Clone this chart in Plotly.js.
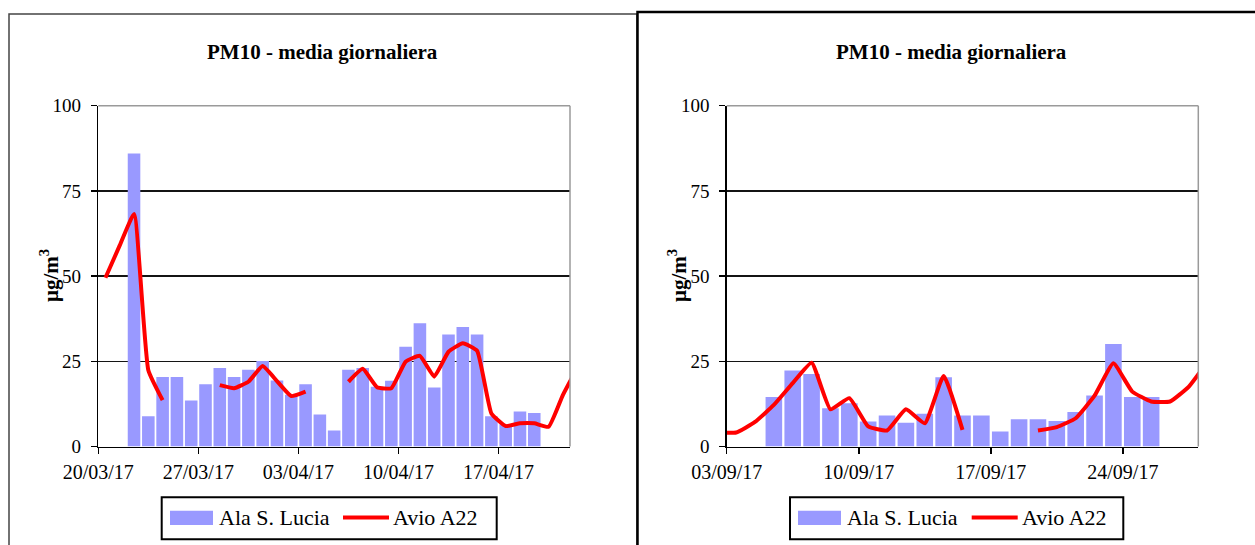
<!DOCTYPE html>
<html>
<head>
<meta charset="utf-8">
<script src="https://cdn.plot.ly/plotly-3.0.1.min.js"></script>
<style>
  html, body { margin: 0; padding: 0; background: #fff; }
  #chart { width: 1255px; height: 545px; }
</style>
</head>
<body>
<div id="chart"></div>
<script>
// PM10 daily means, spring period (20/03/17 - 21/04/17)
const springDates = [
  '2017-03-20','2017-03-21','2017-03-22','2017-03-23','2017-03-24','2017-03-25','2017-03-26',
  '2017-03-27','2017-03-28','2017-03-29','2017-03-30','2017-03-31','2017-04-01','2017-04-02',
  '2017-04-03','2017-04-04','2017-04-05','2017-04-06','2017-04-07','2017-04-08','2017-04-09',
  '2017-04-10','2017-04-11','2017-04-12','2017-04-13','2017-04-14','2017-04-15','2017-04-16',
  '2017-04-17','2017-04-18','2017-04-19','2017-04-20','2017-04-21','2017-04-22'
];
const springAla = [
  null, null, 86, 8.9, 20.4, 20.4, 13.5,
  18.3, 23.0, 20.4, 22.5, 25.1, 19.4, 15.2,
  18.3, 9.4, 4.7, 22.5, 23.0, 17.5, 19.3,
  29.3, 36.2, 17.3, 32.9, 35.1, 32.9, 8.9,
  6.5, 10.3, 9.8, null, null, null
];
const springAvio = [
  49.5, 59, 68.2, 22.4, 13.6, null, null,
  null, 18.0, 17.1, 19.0, 23.6, 19.2, 14.8,
  16.1, null, null, 19.0, 22.8, 17.4, 17.1,
  24.9, 26.6, 20.5, 27.8, 30.3, 28.1, 9.7,
  6.0, 6.8, 6.8, 5.8, 15.1, 23
];

// PM10 daily means, late summer period (03/09/17 - 27/09/17)
const autumnDates = [
  '2017-09-02',
  '2017-09-03','2017-09-04','2017-09-05','2017-09-06','2017-09-07','2017-09-08','2017-09-09',
  '2017-09-10','2017-09-11','2017-09-12','2017-09-13','2017-09-14','2017-09-15','2017-09-16',
  '2017-09-17','2017-09-18','2017-09-19','2017-09-20','2017-09-21','2017-09-22','2017-09-23',
  '2017-09-24','2017-09-25','2017-09-26','2017-09-27','2017-09-28'
];
const autumnAla = [
  null,
  null, null, 14.5, 22.3, 21.3, 11.2, 12.7,
  7.3, 9.1, 7.0, 9.6, 20.3, 9.1, 9.1,
  4.4, 8.0, 8.0, 7.5, 10.1, 15.0, 30.1,
  14.5, 14.5, null, null, null
];
const autumnAvio = [
  4.1,
  4.1, 7.2, 12.2, 18.6, 24.6, 10.9, 14.2,
  5.9, 4.7, 10.9, 6.8, 20.7, 4.9, null,
  null, null, 4.7, 5.7, 8.3, 14.9, 24.4,
  16.1, 13.2, 13.2, 17.6, 25
];

const chartTitle = 'PM10 - media giornaliera';
const seriesNames = ['Ala S. Lucia', 'Avio A22'];
const yTicks = [0, 25, 50, 75, 100];

const BAR_COLOR = '#9999FF';
const LINE_COLOR = '#FF0000';
const FONT = '"Liberation Serif"';
const W = 1255, H = 545;
const px = x => x / W;
const py = y => 1 - y / H;
const DAY = 86400000;

function barTrace(x, y, xa, ya) {
  return {
    type: 'bar', x: x, y: y, xaxis: xa, yaxis: ya, name: seriesNames[0],
    xperiod: DAY, xperiodalignment: 'middle',
    marker: { color: BAR_COLOR, line: { width: 0 } },
    showlegend: false, hoverinfo: 'x+y'
  };
}
function lineTrace(x, y, xa, ya) {
  return {
    type: 'scatter', mode: 'lines', x: x, y: y, xaxis: xa, yaxis: ya, name: seriesNames[1],
    xperiod: DAY, xperiodalignment: 'middle',
    line: { color: LINE_COLOR, width: 4, shape: 'spline', smoothing: 0.4 },
    connectgaps: false, showlegend: false, hoverinfo: 'x+y'
  };
}

const traces = [
  barTrace(springDates, springAla, 'x', 'y'),
  lineTrace(springDates, springAvio, 'x', 'y'),
  barTrace(autumnDates, autumnAla, 'x2', 'y2'),
  lineTrace(autumnDates, autumnAvio, 'x2', 'y2')
];

function xAxis(domain, range, tick0) {
  return {
    domain: domain, type: 'date', range: range,
    tick0: tick0, dtick: 7 * DAY, tickformat: '%d/%m/%y',
    ticks: 'outside', ticklen: 6, tickwidth: 1.5, tickcolor: '#000',
    showline: true, linecolor: '#000', linewidth: 1.5,
    showgrid: false, zeroline: false,
    tickfont: { family: FONT, size: 20, color: '#000' },
    ticklabelstandoff: 1, fixedrange: true
  };
}
function yAxis(domain, anchor) {
  return {
    domain: domain, anchor: anchor, range: [0, 100],
    tickvals: yTicks, ticktext: yTicks.map(String),
    ticks: 'outside', ticklen: 6, tickwidth: 1.5, tickcolor: '#000',
    showline: true, linecolor: '#000', linewidth: 1.5,
    showgrid: true, gridcolor: '#141414', gridwidth: 1.5, zeroline: false,
    tickfont: { family: FONT, size: 19, color: '#000' },
    ticklabelstandoff: 6, fixedrange: true
  };
}

const yDom = [py(446.5), py(105.7)];
const leftDom = [px(98.3), px(570)];
const rightDom = [px(726.7), px(1198.3)];

const shapes = [];
const annotations = [];

function panel(xDom, titleX, yTitleX, legend) {
  // gray frame along the top and right of the plot area
  shapes.push({ type: 'line', xref: 'paper', yref: 'paper', x0: xDom[0], x1: xDom[1], y0: yDom[1], y1: yDom[1],
    line: { color: '#9a9a9a', width: 1.5 }, layer: 'above' });
  shapes.push({ type: 'line', xref: 'paper', yref: 'paper', x0: xDom[1], x1: xDom[1], y0: yDom[0], y1: yDom[1],
    line: { color: '#9a9a9a', width: 1.5 }, layer: 'above' });

  annotations.push({ xref: 'paper', yref: 'paper', x: px(titleX), y: py(52), xanchor: 'center', yanchor: 'middle',
    text: '<b>' + chartTitle + '</b>', showarrow: false, font: { family: FONT, size: 21, color: '#000' } });
  annotations.push({ xref: 'paper', yref: 'paper', x: px(yTitleX), y: py(276), xanchor: 'center', yanchor: 'middle',
    text: '<b>μg/m<sup>3</sup></b>', textangle: -90, showarrow: false, font: { family: FONT, size: 21, color: '#000' } });

  // legend box
  shapes.push({ type: 'rect', xref: 'paper', yref: 'paper', x0: px(legend.x0), x1: px(legend.x1), y0: py(539.3), y1: py(497.3),
    line: { color: '#000', width: 2 }, fillcolor: '#fff' });
  shapes.push({ type: 'rect', xref: 'paper', yref: 'paper', x0: px(legend.bar), x1: px(legend.bar + 43), y0: py(525), y1: py(510.7),
    line: { width: 0 }, fillcolor: BAR_COLOR });
  shapes.push({ type: 'line', xref: 'paper', yref: 'paper', x0: px(legend.line), x1: px(legend.line + 46), y0: py(517.5), y1: py(517.5),
    line: { color: LINE_COLOR, width: 4 } });
  annotations.push({ xref: 'paper', yref: 'paper', x: px(legend.bar + 47), y: py(517.5), xanchor: 'left', yanchor: 'middle',
    text: seriesNames[0], showarrow: false, font: { family: FONT, size: 22, color: '#000' } });
  annotations.push({ xref: 'paper', yref: 'paper', x: px(legend.line + 48), y: py(517.5), xanchor: 'left', yanchor: 'middle',
    text: seriesNames[1], showarrow: false, font: { family: FONT, size: 22, color: '#000' } });
}

panel(leftDom, 322, 49, { x0: 161.7, x1: 496.7, bar: 170, line: 343 });
panel(rightDom, 951, 677, { x0: 790, x1: 1123.3, bar: 798, line: 971.7 });

// outer chart frames
shapes.push({ type: 'rect', xref: 'paper', yref: 'paper', x0: px(9), x1: px(637), y0: py(14), y1: py(570),
  line: { color: '#444', width: 1.5 }, fillcolor: 'rgba(0,0,0,0)' });
shapes.push({ type: 'rect', xref: 'paper', yref: 'paper', x0: px(637.5), x1: px(1275), y0: py(12), y1: py(570),
  line: { color: '#000', width: 2.5 }, fillcolor: 'rgba(0,0,0,0)' });

const layout = {
  width: W, height: H,
  margin: { l: 0, r: 0, t: 0, b: 0, pad: 0 },
  paper_bgcolor: '#fff', plot_bgcolor: '#fff',
  bargap: 0.12,
  showlegend: false,
  xaxis: Object.assign(xAxis(leftDom, ['2017-03-20', '2017-04-22'], '2017-03-20'), { anchor: 'y' }),
  yaxis: yAxis(yDom, 'x'),
  xaxis2: Object.assign(xAxis(rightDom, ['2017-09-03', '2017-09-28'], '2017-09-03'), { anchor: 'y2' }),
  yaxis2: yAxis(yDom, 'x2'),
  shapes: shapes,
  annotations: annotations,
  font: { family: FONT, color: '#000' }
};

Plotly.newPlot('chart', traces, layout, { displayModeBar: false, staticPlot: true });
</script>
</body>
</html>
